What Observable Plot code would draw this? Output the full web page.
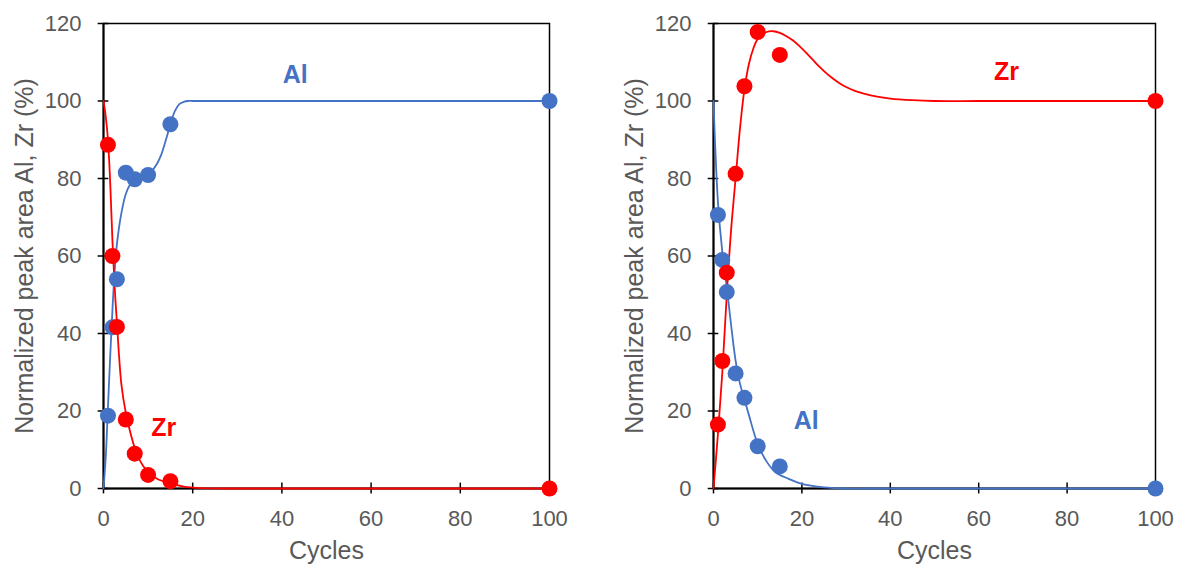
<!DOCTYPE html>
<html>
<head>
<meta charset="utf-8">
<script src="https://cdn.jsdelivr.net/npm/d3@7"></script>
<script src="https://cdn.jsdelivr.net/npm/@observablehq/plot@0.6"></script>
<style>
  html, body { margin: 0; padding: 0; background: #fff; }
  #wrap { display: flex; width: 1184px; height: 568px; }
</style>
</head>
<body>
<div id="wrap"></div>
<script>
// ---- data ----
const cycles = [1, 2, 3, 5, 7, 10, 15, 100];

// Left panel measured points
const leftAl = [18.8, 41.6, 54.0, 81.5, 79.8, 80.9, 94.0, 100];
const leftZr = [88.7, 60.0, 41.7, 17.8, 9.0, 3.5, 1.9, 0];

// Right panel measured points
const rightAl = [70.6, 59.0, 50.7, 29.7, 23.4, 10.9, 5.7, 0];
const rightZr = [16.5, 32.9, 55.7, 81.2, 103.8, 117.8, 111.9, 100];

// Fitted curves
const leftAlFitX = [0, 0.5, 1, 1.5, 2, 2.5, 3, 4, 5, 6, 7, 8, 9, 10, 11, 12, 13, 14, 15, 16, 17, 18, 19, 20, 25, 40, 70, 100];
const leftAlFitY = [0, 8, 21, 34, 46, 56, 63, 71, 76, 78.5, 79.8, 80.3, 80.7, 81.2, 82.2, 83.8, 86.3, 90, 94, 97.4, 99.2, 99.8, 100, 100, 100, 100, 100, 100];

const leftZrFitX = [0, 0.5, 1, 1.5, 2, 2.5, 3, 4, 5, 6, 7, 8, 10, 12, 15, 18, 22, 26, 40, 70, 100];
const leftZrFitY = [100, 96, 90, 79, 64, 52, 43, 27, 19.5, 14.5, 10.5, 7.5, 4.2, 2.5, 1.3, 0.5, 0.1, 0, 0, 0, 0];

const rightAlFitX = [0, 1, 2, 3, 4, 5, 6, 7, 8, 10, 12, 14, 17, 20, 25, 30, 35, 50, 75, 100];
const rightAlFitY = [100, 74, 61, 52, 42, 33, 27, 23, 19, 11.5, 7, 4.2, 2.5, 1.2, 0.3, 0, 0, 0, 0, 0];

const rightZrFitX = [0, 1, 2, 3, 4, 5, 6, 7, 8, 9, 10, 12, 13.5, 15, 16.5, 18, 19.5, 21, 22.5, 24, 25.5, 27, 28.5, 30, 32, 34, 37, 40, 45, 50, 60, 80, 100];
const rightZrFitY = [0, 14, 30, 50, 67, 80, 93, 103, 109.5, 113.5, 116, 117.8, 118, 117.6, 116.7, 115.6, 114.1, 112.4, 110.6, 108.8, 107.2, 105.8, 104.6, 103.6, 102.6, 101.9, 101.1, 100.6, 100.2, 100, 100, 100, 100];

const xTicks = [0, 20, 40, 60, 80, 100];
const yTicks = [0, 20, 40, 60, 80, 100, 120];

const xTitle = "Cycles";
const yTitle = "Normalized peak area Al, Zr (%)";

const BLUE = "#4472C4";
const RED = "#FF0000";
const GRAY = "#595959";
const FONT = "'Liberation Sans', Arial, sans-serif";

function zipXY(xs, ys) { return xs.map((x, i) => ({x, y: ys[i]})); }

function panel(opts) {
  const {al, zr, alFit, zrFit, labels, marginLeft, marginRight} = opts;
  const alPts = zipXY(cycles, al);
  const zrPts = zipXY(cycles, zr);
  return Plot.plot({
    width: 592,
    height: 568,
    marginLeft,
    marginRight,
    marginTop: 23,
    marginBottom: 80,
    style: {fontFamily: FONT, background: "white", overflow: "visible"},
    x: {domain: [0, 100], ticks: xTicks},
    y: {domain: [0, 120], ticks: yTicks},
    marks: [
      Plot.frame({stroke: "black", strokeWidth: 1.5}),
      Plot.axisX(xTicks, {tickSize: 0, tickPadding: 22, fontSize: 22, fill: GRAY, label: null}),
      Plot.axisY(yTicks, {tickSize: 0, tickPadding: 22, fontSize: 22, fill: GRAY, label: null}),
      Plot.ruleX(xTicks, {x: d => d, y1: -1.4, y2: 1.4, stroke: "black", strokeWidth: 1.5}),
      Plot.ruleY(yTicks, {y: d => d, x1: -1.2, x2: 1.2, stroke: "black", strokeWidth: 1.5}),
      Plot.ruleY([0], {stroke: "black", strokeWidth: 2}),
      Plot.ruleX([0], {stroke: "black", strokeWidth: 2}),
      Plot.line(zipXY(alFit[0], alFit[1]), {x: "x", y: "y", stroke: BLUE, strokeWidth: 1.8, curve: "catmull-rom"}),
      Plot.line(zipXY(zrFit[0], zrFit[1]), {x: "x", y: "y", stroke: RED, strokeWidth: 1.8, curve: "catmull-rom"}),
      Plot.dot(alPts, {x: "x", y: "y", r: 8, fill: BLUE}),
      Plot.dot(zrPts, {x: "x", y: "y", r: 8, fill: RED}),
      Plot.text(labels, {x: "x", y: "y", text: "t", fill: "c", fontSize: 25, fontWeight: "bold", textAnchor: "middle", lineAnchor: "middle"}),
      Plot.text([xTitle], {frameAnchor: "bottom", dy: 62, fontSize: 25, fill: GRAY, textAnchor: "middle", lineAnchor: "middle"}),
      Plot.text([yTitle], {frameAnchor: "left", dx: -79, rotate: -90, fontSize: 25, fill: GRAY, textAnchor: "middle", lineAnchor: "middle"})
    ]
  });
}

const labelsLeft = [
  {x: 43, y: 106.6, t: "Al", c: BLUE},
  {x: 13.5, y: 15.5, t: "Zr", c: RED}
];
const labelsRight = [
  {x: 66.3, y: 107.4, t: "Zr", c: RED},
  {x: 21, y: 17.5, t: "Al", c: BLUE}
];

const wrap = document.getElementById("wrap");
wrap.appendChild(panel({
  al: leftAl, zr: leftZr,
  alFit: [leftAlFitX, leftAlFitY], zrFit: [leftZrFitX, leftZrFitY],
  labels: labelsLeft, marginLeft: 103, marginRight: 43
}));
wrap.appendChild(panel({
  al: rightAl, zr: rightZr,
  alFit: [rightAlFitX, rightAlFitY], zrFit: [rightZrFitX, rightZrFitY],
  labels: labelsRight, marginLeft: 121, marginRight: 29
}));
</script>
</body>
</html>
